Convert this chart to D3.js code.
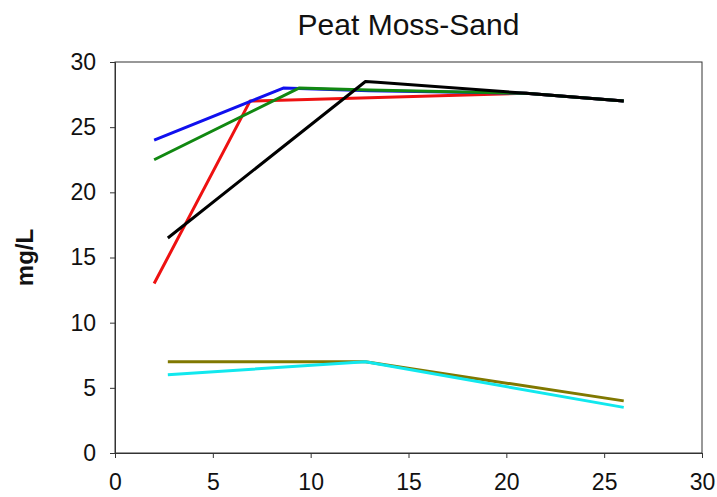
<!DOCTYPE html>
<html><head><meta charset="utf-8">
<script src="https://cdn.jsdelivr.net/npm/d3@7"></script>
<style>body{margin:0;background:#fff;} text{font-family:Arial,"Liberation Sans",sans-serif;}</style>
</head><body><svg id="c" width="717" height="497"></svg>
<script>
const title = "Peat Moss-Sand";
const yLabel = "mg/L";
const xTicks = [0,5,10,15,20,25,30];
const yTicks = [0,5,10,15,20,25,30];

const redX = [2, 6.9, 13, 21, 26];
const redY = [13, 27, 27.25, 27.6, 27];
const blueX = [2, 8.6, 13, 21, 26];
const blueY = [24, 28, 27.8, 27.6, 27];
const greenX = [2, 9.4, 13, 21, 26];
const greenY = [22.5, 28, 27.85, 27.6, 27];
const blackX = [2.7, 12.8, 13.4, 21, 26];
const blackY = [16.5, 28.5, 28.45, 27.6, 27];
const oliveX = [2.7, 12.8, 26];
const oliveY = [7, 7, 4];
const cyanX = [2.7, 12.8, 26];
const cyanY = [6, 7, 3.5];

const series = [
  {x: redX, y: redY, color: "#ee1111"},
  {x: blueX, y: blueY, color: "#1010ee"},
  {x: greenX, y: greenY, color: "#118811"},
  {x: blackX, y: blackY, color: "#000000"},
  {x: oliveX, y: oliveY, color: "#807800"},
  {x: cyanX, y: cyanY, color: "#11e8ee"}
];

const svg = d3.select("#c");
const L = 115, R = 702, T = 62, B = 453;
const x = d3.scaleLinear().domain([0,30]).range([L,R]);
const y = d3.scaleLinear().domain([0,30]).range([B,T]);

// frame
svg.append("rect").attr("x",L).attr("y",T).attr("width",R-L).attr("height",B-T)
  .attr("fill","none").attr("stroke","#333").attr("stroke-width",1);

const xa = svg.append("g").attr("transform",`translate(0,${B})`)
  .call(d3.axisBottom(x).tickValues(xTicks).tickSize(5).tickPadding(16).tickFormat(d3.format("d")));
const ya = svg.append("g").attr("transform",`translate(${L},0)`)
  .call(d3.axisLeft(y).tickValues(yTicks).tickSize(5).tickPadding(14).tickFormat(d3.format("d")));
[xa,ya].forEach(a=>{
  a.select(".domain").attr("stroke","#333");
  a.selectAll(".tick line").attr("stroke","#333");
  a.selectAll(".tick text").attr("fill","#111").style("font-size","23px")
   .style("font-family","Arial, 'Liberation Sans', sans-serif");
});

const line = d3.line().x(d=>x(d[0])).y(d=>y(d[1]));
series.forEach(s=>{
  const pts = s.x.map((v,i)=>[v, s.y[i]]);
  svg.append("path").attr("d", line(pts)).attr("fill","none")
    .attr("stroke", s.color).attr("stroke-width",3).attr("stroke-linejoin","round");
});

svg.append("text").attr("x",(L+R)/2).attr("y",35).attr("text-anchor","middle")
  .style("font-size","30px").attr("fill","#111").text(title);
svg.append("text").attr("transform",`translate(33,${(T+B)/2}) rotate(-90)`)
  .attr("text-anchor","middle").style("font-size","24px").style("font-weight","bold")
  .attr("fill","#111").text(yLabel);
</script></body></html>
